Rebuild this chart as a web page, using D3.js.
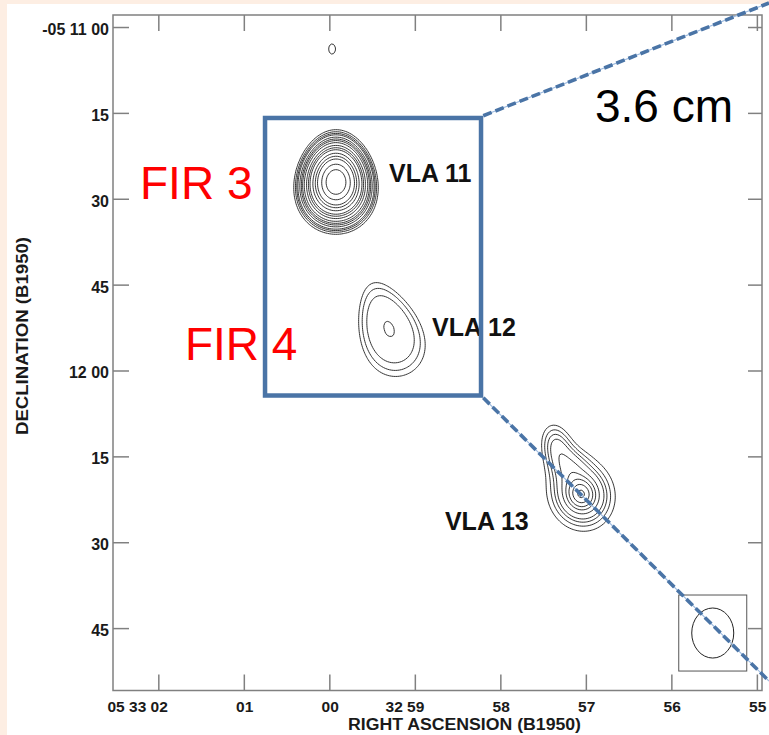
<!DOCTYPE html>
<html><head><meta charset="utf-8">
<script src="https://cdn.jsdelivr.net/npm/d3@7"></script>
<style>
html,body{margin:0;padding:0;background:#fdeee3;}
svg{display:block;}
text{font-family:"Liberation Sans",Arial,Helvetica,sans-serif;}
</style></head><body>
<svg id="chart" width="769" height="735"></svg>
<script>
// Right ascension ticks: seconds of time relative to 05h33m00s (B1950)
const raTicks = [2, 1, 0, -1, -2, -3, -4, -5];
const raTickLabels = ["05 33 02", "01", "00", "32 59", "58", "57", "56", "55"];
// Declination ticks: arcsec south of -05°11'00" (B1950)
const decTicks = [0, 15, 30, 45, 60, 75, 90, 105];
const decTickLabels = ["-05 11 00", "15", "30", "45", "12 00", "15", "30", "45"];

// Contour levels, in units of the map rms
const contourLevels = [3, 4, 5, 6, 8, 10, 12, 15, 20, 25, 30, 40, 50, 60, 80, 100];

// Emission components of the 3.6 cm map
const compName  = ["VLA 11", "VLA 12", "VLA 13 N", "VLA 13 bridge", "VLA 13 S", "knot"];
const compRA    = [-0.078, -0.698, -2.662, -2.833, -2.944, -0.032];   // s
const compDec   = [27.07, 52.75, 73.36, 76.6, 81.57, 3.84];         // arcsec
const compPeak  = [123, 6.003, 5.6, 2.5, 24.5, 3.4];
const compMajor = [3.35, 7.83, 3.14, 2.0, 1.57, 1.8];               // sigma, arcsec
const compMinor = [2.69, 4.9, 1.92, 2.0, 1.40, 1.2];
const compPA    = [0, 20, 15, 0, 20, 0];                            // deg, N through E
const compShape = [2, 4, 2, 2, 1, 2];                               // 2 gaussian, 1 exponential, 4 flat-topped
const compSkew  = [0.04, 0.22, 0, 0, 0, 0];                         // taper of the minor axis towards PA

// Source labels
const srcLabels = ["VLA 11", "VLA 12", "VLA 13"];
const srcLabelRA = [-0.698, -1.201, -1.352];
const srcLabelDec = [27.07, 53.97, 87.86];
// Far-infrared source labels
const firLabels = ["FIR 3", "FIR 4"];
const firLabelRA = [2.214, 1.688];
const firLabelDec = [30.04, 58.16];

// Synthesized beam
const beamRA = -4.484, beamDec = 105.86, beamMajor = 4.37, beamMinor = 3.67;
const beamBoxHalfW = 5.94, beamBoxHalfH = 6.64;

// Zoomed region and its callout lines
const zoomRA = [0.752, -1.774];
const zoomDec = [15.89, 64.37];
const calloutEndRA = -5.142;
const calloutEndDec = [-4.196, 114.24];
const bandLabel = "3.6 cm";
const bandLabelRA = -3.107, bandLabelDec = 16.6;

const svg = d3.select("#chart");
const W = 769, H = 735;

svg.append("rect").attr("x", 7).attr("y", 4).attr("width", W - 7).attr("height", H - 4).attr("fill", "#ffffff");

const x = d3.scaleLinear().domain([2.53, -5.06]).range([113, 762]);
const y = d3.scaleLinear().domain([-2.1, 115.9]).range([15, 690.5]);

const frameColor = "#808080";

// contour field sampled on a regular grid
const cosDec = Math.cos((5 + 11.5 / 60) * Math.PI / 180);
const arcsecPerSec = 15 * cosDec;
const cell = 0.35;
const ra0 = x.domain()[0], dec0 = y.domain()[0];
const nx = Math.ceil((x.domain()[0] - x.domain()[1]) * arcsecPerSec / cell) + 1;
const ny = Math.ceil((y.domain()[1] - y.domain()[0]) / cell) + 1;
const values = new Float64Array(nx * ny);
const comps = compName.map((n, k) => ({
  ra: compRA[k], dec: compDec[k], peak: compPeak[k], a: compMajor[k], b: compMinor[k],
  sp: Math.sin(compPA[k] * Math.PI / 180), cp: Math.cos(compPA[k] * Math.PI / 180),
  n: compShape[k], skew: compSkew[k]
}));
for (let j = 0; j < ny; j++) {
  const dec = dec0 + j * cell;
  for (let i = 0; i < nx; i++) {
    const ra = ra0 - i * cell / arcsecPerSec;
    let v = 0;
    for (const c of comps) {
      const east = (ra - c.ra) * arcsecPerSec;
      const north = -(dec - c.dec);
      const u = east * c.sp + north * c.cp;
      const w = east * c.cp - north * c.sp;
      const taper = Math.min(1.7, Math.max(0.3, 1 - c.skew * u / c.a));
      const q = (u / c.a) ** 2 + (w / (c.b * taper)) ** 2;
      v += c.peak * Math.exp(-0.5 * Math.pow(q, c.n / 2));
    }
    values[j * nx + i] = v;
  }
}
const contours = d3.contours().size([nx, ny]).thresholds(contourLevels)(values);
const gridToScreen = d3.geoTransform({
  point(px, py) {
    this.stream.point(x(ra0 - (px - 0.5) * cell / arcsecPerSec), y(dec0 + (py - 0.5) * cell));
  }
});
const path = d3.geoPath(gridToScreen);
svg.append("g").selectAll("path").data(contours).join("path")
  .attr("d", path).attr("fill", "none").attr("stroke", "#1e1e1e").attr("stroke-width", 0.9)
  .attr("stroke-linejoin", "round");

// axes (ticks point inward)
const tickLen = 16;
const gB = svg.append("g").attr("transform", `translate(0,${y.range()[1]})`)
  .call(d3.axisBottom(x).tickValues(raTicks).tickSizeInner(-tickLen).tickSizeOuter(0)
    .tickFormat((d, i) => raTickLabels[i]));
const gT = svg.append("g").attr("transform", `translate(0,${y.range()[0]})`)
  .call(d3.axisTop(x).tickValues(raTicks).tickSizeInner(-tickLen).tickSizeOuter(0).tickFormat(""));
const gL = svg.append("g").attr("transform", `translate(${x.range()[0]},0)`)
  .call(d3.axisLeft(y).tickValues(decTicks).tickSizeInner(-tickLen).tickSizeOuter(0)
    .tickFormat((d, i) => decTickLabels[i]));
const gR = svg.append("g").attr("transform", `translate(${x.range()[1]},0)`)
  .call(d3.axisRight(y).tickValues(decTicks).tickSizeInner(-14).tickSizeOuter(0).tickFormat(""));
[gB, gT, gL, gR].forEach(g => {
  g.select(".domain").remove();
  g.selectAll(".tick line").attr("stroke", frameColor).attr("stroke-width", 1.5);
});
gB.selectAll(".tick text").attr("y", 21).attr("x", 9).attr("dy", null)
  .attr("text-anchor", "end").attr("font-size", 15.5).attr("font-weight", "bold")
  .attr("fill", "#1a1a1a").style("font-family", "'Liberation Sans', Arial, sans-serif");
gL.selectAll(".tick text").attr("x", -4).attr("dy", null).attr("y", 7.5)
  .attr("text-anchor", "end").attr("font-size", 16).attr("font-weight", "bold")
  .attr("fill", "#1a1a1a").style("font-family", "'Liberation Sans', Arial, sans-serif");

// frame
svg.append("rect")
  .attr("x", x.range()[0]).attr("y", y.range()[0])
  .attr("width", x.range()[1] - x.range()[0]).attr("height", y.range()[1] - y.range()[0])
  .attr("fill", "none").attr("stroke", frameColor).attr("stroke-width", 1.5);

// axis titles
svg.append("text").attr("x", 464.5).attr("y", 730)
  .attr("text-anchor", "middle").attr("font-size", 16).attr("font-weight", "bold")
  .attr("fill", "#1a1a1a").attr("textLength", 233).attr("lengthAdjust", "spacingAndGlyphs")
  .text("RIGHT ASCENSION (B1950)");
svg.append("text").attr("transform", "translate(27.5,336) rotate(-90)")
  .attr("text-anchor", "middle").attr("font-size", 16).attr("font-weight", "bold")
  .attr("fill", "#1a1a1a").attr("textLength", 198).attr("lengthAdjust", "spacingAndGlyphs")
  .text("DECLINATION (B1950)");

// beam
const bx = x(beamRA), by = y(beamDec);
const pxPerArcsec = Math.abs(y(1) - y(0));
svg.append("rect")
  .attr("x", x(beamRA + beamBoxHalfW / arcsecPerSec)).attr("y", y(beamDec - beamBoxHalfH))
  .attr("width", x(beamRA - beamBoxHalfW / arcsecPerSec) - x(beamRA + beamBoxHalfW / arcsecPerSec))
  .attr("height", y(beamDec + beamBoxHalfH) - y(beamDec - beamBoxHalfH))
  .attr("fill", "none").attr("stroke", "#555").attr("stroke-width", 1);
svg.append("ellipse").attr("cx", bx).attr("cy", by)
  .attr("rx", beamMinor * pxPerArcsec).attr("ry", beamMajor * pxPerArcsec)
  .attr("fill", "none").attr("stroke", "#222").attr("stroke-width", 1);

// source labels
svg.append("g").selectAll("text").data(srcLabels).join("text")
  .attr("x", (d, i) => x(srcLabelRA[i])).attr("y", (d, i) => y(srcLabelDec[i]))
  .attr("font-size", 25).attr("font-weight", "bold").attr("fill", "#111").text(d => d);

// zoomed region box
const blue = "#4a74a6";
const zx0 = x(zoomRA[0]), zx1 = x(zoomRA[1]), zy0 = y(zoomDec[0]), zy1 = y(zoomDec[1]);
const sw = 4.5;
[0, 1].forEach(k => {
  const xe = x(calloutEndRA), ye = y(calloutEndDec[k]);
  const ys = k === 0 ? zy0 - sw / 2 : zy1 + sw / 2;
  svg.append("line").attr("x1", zx1 + sw / 2).attr("y1", ys).attr("x2", xe).attr("y2", ye)
    .attr("stroke", "#9dbbe0").attr("stroke-width", 1.2);
  svg.append("line").attr("x1", zx1 + sw / 2).attr("y1", ys).attr("x2", xe).attr("y2", ye)
    .attr("stroke", blue).attr("stroke-width", 3.6).attr("stroke-dasharray", "9,4");
});
svg.append("rect").attr("x", zx0).attr("y", zy0).attr("width", zx1 - zx0).attr("height", zy1 - zy0)
  .attr("fill", "none").attr("stroke", blue).attr("stroke-width", sw);

// far-infrared labels
svg.append("g").selectAll("text").data(firLabels).join("text")
  .attr("x", (d, i) => x(firLabelRA[i])).attr("y", (d, i) => y(firLabelDec[i]))
  .attr("font-size", 46).attr("fill", "#ff0000").text(d => d);

svg.append("text").attr("x", x(bandLabelRA)).attr("y", y(bandLabelDec))
  .attr("font-size", 46).attr("fill", "#000").text(bandLabel);
</script>
</body></html>
